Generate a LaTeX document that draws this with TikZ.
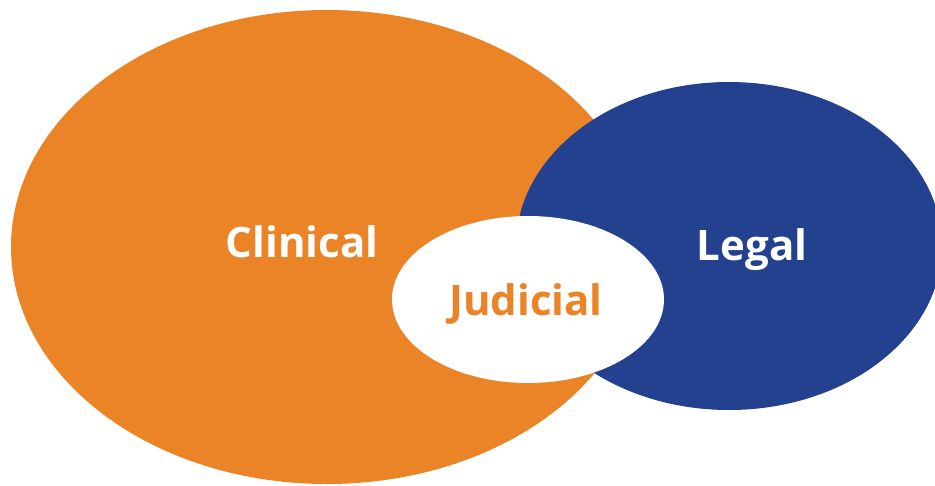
\documentclass[tikz,border=0pt]{standalone}
\usepackage{fontspec}
\setmainfont{Open Sans}
\definecolor{clinicalorange}{RGB}{235,132,38}
\definecolor{legalblue}{RGB}{35,65,143}
\tikzset{
  label text/.style={anchor=base, font=\fontsize{42}{42}\selectfont\bfseries},
}
\begin{document}
\begin{tikzpicture}[x=1pt,y=-1pt]
        \useasboundingbox (0,0) rectangle (935,485);
        \clip (0,0) rectangle (935,485);
        \fill[clinicalorange] (327,247) ellipse (316 and 237);
        \fill[legalblue] (729,246) ellipse (213 and 164);
        \fill[white] (528,299.5) ellipse (136 and 83.5);

        \node[label text, white] (clinical) at (302,257) {Clinical};
        \node[label text, white] (legal) at (752,260) {Legal};
        \node[label text, clinicalorange] (judicial) at (526,315) {Judicial};
      \end{tikzpicture}
\end{document}
